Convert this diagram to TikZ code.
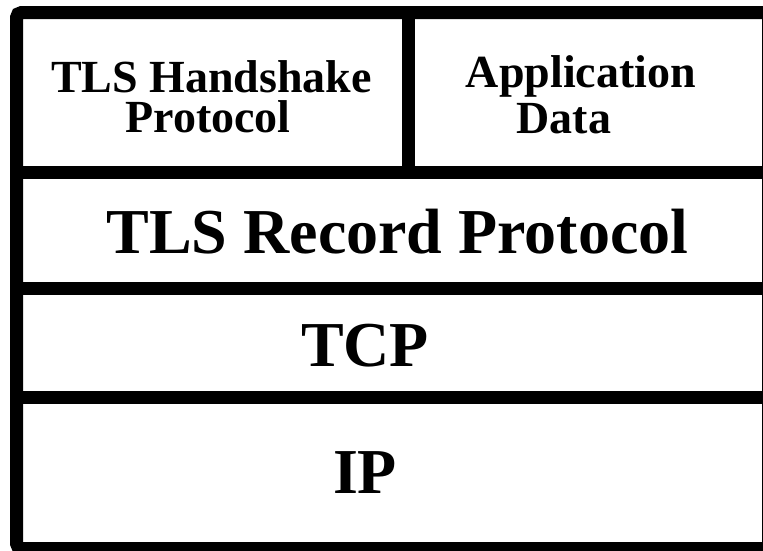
\documentclass[tikz,border=0pt]{standalone}
\usepackage{fontspec}
\setmainfont{Liberation Serif}
\begin{document}
\begin{tikzpicture}[x=1pt,y=-1pt,
  rule/.style={line width=13pt,line cap=rect},
  small/.style={font=\fontsize{46}{46}\selectfont\bfseries,anchor=base,inner sep=0pt},
  big/.style={font=\fontsize{64}{64}\selectfont\bfseries,anchor=base,inner sep=0pt}]
  % page frame
  \fill[white] (0,0) rectangle (763,550);
  \useasboundingbox (0,0) rectangle (763,550);
  \clip (0,0) rectangle (763,550);
  % outer box of the protocol stack
  \draw[line width=13pt,rounded corners=5pt] (16.5,12.5) rectangle (768.5,548.5);
  % layer separators
  \draw[rule] (16.5,172.5) -- (768.5,172.5);
  \draw[rule] (16.5,288) -- (768.5,288);
  \draw[rule] (16.5,397.5) -- (768.5,397.5);
  % split of the top layer
  \draw[line width=13pt] (408.5,12.5) -- (408.5,172.5);
  % labels
  \node[small,text depth=0pt] (hs1) at (211.5,92) {TLS Handshake};
  \node[small,text height=29pt] (hs2) at (208,132.5) {Protocol};
  \node[small] (ad1) at (581,87) {Application};
  \node[small] (ad2) at (564,133) {Data};
  \node[big] (rec) at (397.5,253) {TLS Record Protocol};
  \node[big] (tcp) at (365,366) {TCP};
  \node[big] (ip) at (365,493) {IP};
\end{tikzpicture}
\end{document}
